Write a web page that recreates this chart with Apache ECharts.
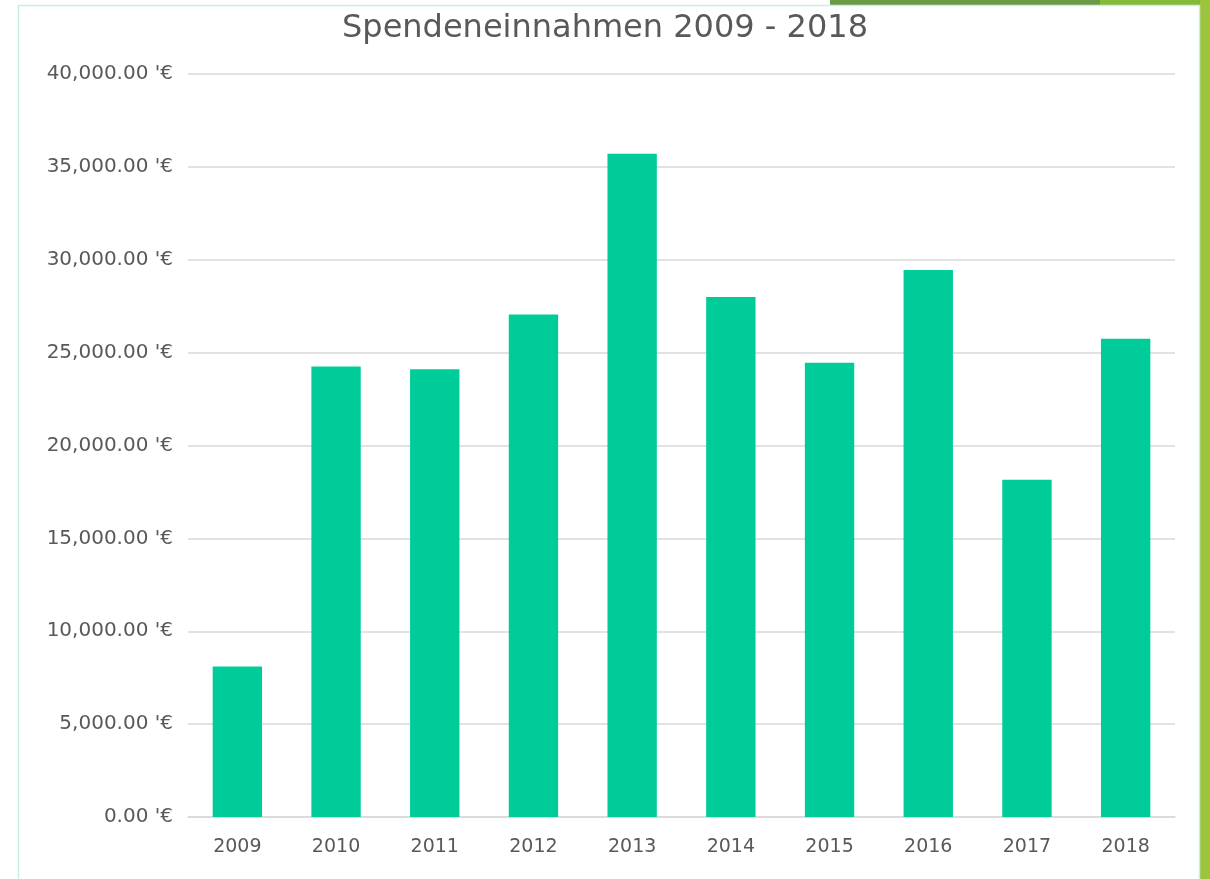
<!DOCTYPE html>
<html>
<head>
<meta charset="utf-8">
<script src="https://cdn.jsdelivr.net/npm/echarts@6/dist/echarts.min.js"></script>
<style>
  html, body { margin: 0; padding: 0; background: #fff; }
  #chart { width: 1210px; height: 879px; }
</style>
</head>
<body>
<div id="chart"></div>
<script>
// Daten
const years = ['2009', '2010', '2011', '2012', '2013', '2014', '2015', '2016', '2017', '2018'];
const donations = [8100, 24250, 24100, 27050, 35700, 28000, 24450, 29450, 18150, 25750];
const yTicks = [0, 5000, 10000, 15000, 20000, 25000, 30000, 35000, 40000];

const chart = echarts.init(document.getElementById('chart'));

function euro(v) {
  return v.toLocaleString('en-US', { minimumFractionDigits: 2, maximumFractionDigits: 2 }) + " '€";
}

const option = {
  backgroundColor: '#ffffff',
  animation: false,
  graphic: [
    // Folienhintergrund oben rechts / rechter Rand
    { type: 'polygon', shape: { points: [[830, 0], [1210, 0], [1210, 5], [830, 5]] }, style: { fill: '#6a9a45' }, z: 0 },
    { type: 'polygon', shape: { points: [[1100, 0], [1210, 0], [1210, 5], [1100, 5]] }, style: { fill: '#86b83a' }, z: 0 },
    { type: 'rect', shape: { x: 1200, y: 0, width: 10, height: 879 }, style: { fill: '#9cc43e' }, z: 0 },
    // Rahmen
    { type: 'rect', shape: { x: 18.5, y: 5.5, width: 1181, height: 880 }, style: { fill: 'none', stroke: '#c8eee8', lineWidth: 1.5 }, z: 0 }
  ],
  title: {
    text: 'Spendeneinnahmen 2009 - 2018',
    left: 'center',
    top: 8,
    textStyle: {
      fontFamily: 'DejaVu Sans',
      fontSize: 32,
      fontWeight: 'normal',
      color: '#595959'
    }
  },
  grid: {
    left: 188,
    right: 35,
    top: 74,
    bottom: 62,
    containLabel: false
  },
  xAxis: {
    type: 'category',
    data: years,
    axisLine: { lineStyle: { color: '#d9d9d9', width: 1.5 } },
    axisTick: { show: false },
    axisLabel: {
      color: '#595959',
      fontFamily: 'DejaVu Sans',
      fontSize: 19,
      margin: 21
    }
  },
  yAxis: {
    type: 'value',
    min: yTicks[0],
    max: yTicks[yTicks.length - 1],
    interval: yTicks[1] - yTicks[0],
    axisLine: { show: false },
    axisTick: { show: false },
    splitLine: { lineStyle: { color: '#d9d9d9', width: 1.5 } },
    axisLabel: {
      color: '#595959',
      fontFamily: 'DejaVu Sans',
      fontSize: 20,
      margin: 15,
      formatter: euro
    }
  },
  series: [
    {
      name: 'Spendeneinnahmen',
      type: 'bar',
      data: donations,
      barWidth: '50%',
      itemStyle: { color: '#00cc99' }
    }
  ]
};

chart.setOption(option);
window.addEventListener('resize', () => chart.resize());
</script>
</body>
</html>
